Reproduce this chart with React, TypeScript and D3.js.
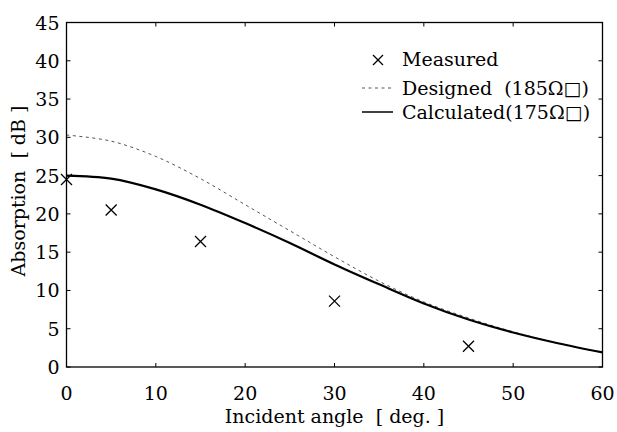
import React from "react";
import * as d3 from "d3";

const measuredAngles = [0, 5, 15, 30, 45];
const measuredValues = [24.5, 20.5, 16.4, 8.6, 2.7];

const curveAngles = [0, 5, 10, 15, 20, 25, 30, 35, 40, 45, 50, 55, 60];
const designedValues = [30.3, 29.5, 27.5, 24.6, 21.2, 17.8, 14.4, 11.2, 8.5, 6.4, 4.6, 3.1, 1.9];
const calculatedValues = [25.0, 24.6, 23.2, 21.2, 18.8, 16.2, 13.4, 10.8, 8.3, 6.2, 4.5, 3.1, 1.9];

const xTicks = [0, 10, 20, 30, 40, 50, 60];
const yTicks = [0, 5, 10, 15, 20, 25, 30, 35, 40, 45];

const legendLabels = ["Measured", "Designed  (185Ω□)", "Calculated(175Ω□)"];

const W = 617;
const H = 432;
const L = 66.5, R = 602.5, T = 22.5, B = 367;
const FONT = "'DejaVu Serif', serif";

export default function App() {
  const x = d3.scaleLinear().domain([0, 60]).range([L, R]);
  const y = d3.scaleLinear().domain([0, 45]).range([B, T]);
  const line = d3
    .line<number>()
    .x((_, i) => x(curveAngles[i]))
    .y((d) => y(d))
    .curve(d3.curveCatmullRom.alpha(0.5));
  const tl = 4;
  const cross = (cx: number, cy: number, s: number) =>
    `M${cx - s},${cy - s}L${cx + s},${cy + s}M${cx - s},${cy + s}L${cx + s},${cy - s}`;
  const txt = { fontFamily: FONT, fontSize: 19, fill: "#000" } as const;

  return (
    <div style={{ position: "absolute", left: 0, top: 0, width: W, height: H, overflow: "hidden" }}>
      <svg width={W} height={H} style={{ display: "block", background: "#fff" }}>
        <rect x={0} y={0} width={W} height={H} fill="#fff" />
        <path d={line(designedValues) || ""} fill="none" stroke="#555" strokeWidth={1} strokeDasharray="3,3.5" />
        <path d={line(calculatedValues) || ""} fill="none" stroke="#000" strokeWidth={2.2} />
        {measuredAngles.map((a, i) => (
          <path key={i} d={cross(x(a), y(measuredValues[i]), 5.5)} stroke="#000" strokeWidth={1.3} fill="none" />
        ))}
        <rect x={L} y={T} width={R - L} height={B - T} fill="none" stroke="#000" strokeWidth={1.3} />
        {xTicks.map((t) => (
          <g key={"x" + t}>
            <line x1={x(t)} x2={x(t)} y1={B} y2={B - tl} stroke="#000" />
            <line x1={x(t)} x2={x(t)} y1={T} y2={T + tl} stroke="#000" />
            <text x={x(t)} y={B + 33} textAnchor="middle" {...txt}>
              {t}
            </text>
          </g>
        ))}
        {yTicks.map((t) => (
          <g key={"y" + t}>
            <line x1={L} x2={L + tl} y1={y(t)} y2={y(t)} stroke="#000" />
            <line x1={R} x2={R - tl} y1={y(t)} y2={y(t)} stroke="#000" />
            <text x={L - 7} y={y(t) + 7} textAnchor="end" {...txt}>
              {t}
            </text>
          </g>
        ))}
        <text x={(L + R) / 2} y={423} textAnchor="middle" {...txt} style={{ whiteSpace: "pre" }}>
          {"Incident angle  [ deg. ]"}
        </text>
        <text
          transform={`translate(25,191) rotate(-90)`}
          textAnchor="middle"
          {...txt}
          style={{ whiteSpace: "pre" }}
        >
          {"Absorption  [ dB ]"}
        </text>
        <path d={cross(378, 60, 5)} stroke="#000" strokeWidth={1.3} fill="none" />
        <line x1={362} x2={393} y1={88} y2={88} stroke="#555" strokeWidth={1} strokeDasharray="3,3.5" />
        <line x1={362} x2={393} y1={112} y2={112} stroke="#000" strokeWidth={1.5} />
        {[66, 94.5, 118.5].map((by, i) => (
          <text key={legendLabels[i]} x={402} y={by} {...txt} style={{ whiteSpace: "pre" }}>
            {legendLabels[i]}
          </text>
        ))}
      </svg>
    </div>
  );
}
